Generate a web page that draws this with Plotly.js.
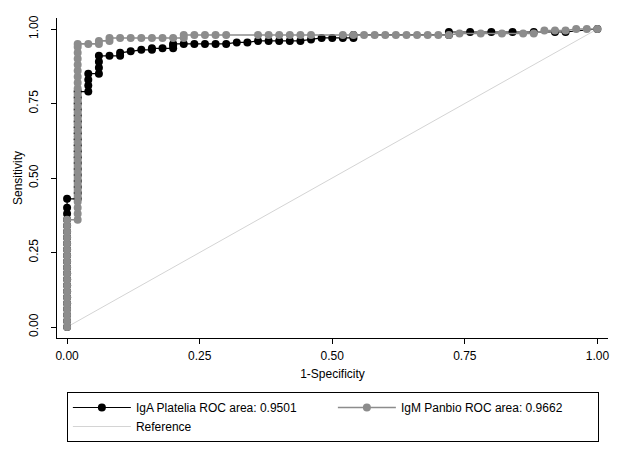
<!DOCTYPE html>
<html>
<head>
<meta charset="utf-8">
<script src="https://cdn.plot.ly/plotly-3.0.1.min.js"></script>
<style>html,body{margin:0;padding:0;background:#fff;}#chart{width:625px;height:457px;}</style>
</head>
<body>
<div id="chart"></div>
<script>
// IgA Platelia ROC curve (1-Specificity, Sensitivity)
const igaX = [0,0,0,0,0,0,0,0,0,0,0,0,0,0,0,0,0,0,0,0,0,0,0.02,0.02,0.02,0.02,0.02,0.02,0.02,0.02,0.02,0.02,0.02,0.02,0.02,0.02,0.02,0.02,0.02,0.02,0.02,0.04,0.04,0.04,0.04,0.06,0.06,0.06,0.06,0.08,0.10,0.10,0.12,0.14,0.16,0.16,0.18,0.20,0.20,0.20,0.22,0.24,0.26,0.28,0.30,0.32,0.34,0.36,0.38,0.40,0.42,0.44,0.46,0.48,0.50,0.52,0.54,0.54,0.72,0.72,0.76,0.80,0.84,0.88,0.92,0.94,1.00];
const igaY = [0,0.02,0.04,0.06,0.08,0.10,0.12,0.14,0.16,0.18,0.20,0.22,0.24,0.26,0.28,0.30,0.32,0.34,0.36,0.38,0.40,0.43,0.43,0.45,0.47,0.49,0.51,0.53,0.55,0.57,0.59,0.61,0.63,0.65,0.67,0.69,0.71,0.73,0.75,0.77,0.79,0.79,0.81,0.83,0.85,0.85,0.87,0.89,0.91,0.91,0.91,0.92,0.925,0.93,0.93,0.935,0.935,0.935,0.945,0.95,0.95,0.95,0.95,0.95,0.95,0.955,0.955,0.96,0.96,0.96,0.96,0.96,0.965,0.97,0.97,0.97,0.97,0.98,0.98,0.99,0.99,0.99,0.99,0.99,0.99,0.99,1.00];
// IgM Panbio ROC curve
const igmX = [0,0,0,0,0,0,0,0,0,0,0,0,0,0,0,0,0,0,0,0.02,0.02,0.02,0.02,0.02,0.02,0.02,0.02,0.02,0.02,0.02,0.02,0.02,0.02,0.02,0.02,0.02,0.02,0.02,0.02,0.02,0.02,0.02,0.02,0.02,0.02,0.02,0.02,0.02,0.02,0.02,0.04,0.06,0.06,0.08,0.08,0.10,0.12,0.14,0.16,0.18,0.20,0.22,0.22,0.24,0.26,0.28,0.30,0.36,0.38,0.40,0.42,0.44,0.46,0.52,0.54,0.56,0.58,0.60,0.62,0.64,0.66,0.68,0.70,0.72,0.74,0.78,0.82,0.86,0.88,0.90,0.92,0.94,0.96,0.98,1.00];
const igmY = [0,0.02,0.04,0.06,0.08,0.10,0.12,0.14,0.16,0.18,0.20,0.22,0.24,0.26,0.28,0.30,0.32,0.34,0.36,0.36,0.38,0.40,0.42,0.44,0.46,0.48,0.50,0.52,0.54,0.56,0.58,0.60,0.62,0.64,0.66,0.68,0.70,0.72,0.74,0.76,0.78,0.80,0.82,0.84,0.86,0.88,0.90,0.92,0.94,0.95,0.95,0.95,0.96,0.96,0.97,0.97,0.97,0.97,0.97,0.97,0.97,0.97,0.98,0.98,0.98,0.98,0.98,0.98,0.98,0.98,0.98,0.98,0.98,0.98,0.98,0.98,0.98,0.98,0.98,0.98,0.98,0.98,0.98,0.98,0.985,0.985,0.985,0.985,0.985,0.995,0.995,0.995,1.00,1.00,1.00];
// Reference diagonal
const refX = [0,1];
const refY = [0,1];
const tickVals = [0,0.25,0.5,0.75,1];
const tickText = ['0.00','0.25','0.50','0.75','1.00'];
const names = ['IgA Platelia ROC area: 0.9501','IgM Panbio ROC area: 0.9662','Reference'];

const FONT = 'Arial, "Liberation Sans", sans-serif';
const data = [
  {x: refX, y: refY, type:'scatter', mode:'lines', name:names[2], legendrank:3,
   line:{color:'#d4d4d4', width:1}},
  {x: igaX, y: igaY, type:'scatter', mode:'lines+markers', name:names[0], legendrank:1,
   line:{color:'#000', width:1.2}, marker:{color:'#000', size:8, symbol:'circle'}},
  {x: igmX, y: igmY, type:'scatter', mode:'lines+markers', name:names[1], legendrank:2,
   line:{color:'#8c8c8c', width:1.6}, marker:{color:'#8c8c8c', size:8, symbol:'circle'}}
];
const layout = {
  width:625, height:457,
  margin:{l:57, r:17, t:18, b:119, autoexpand:false},
  paper_bgcolor:'#fff', plot_bgcolor:'#fff',
  font:{family:FONT, size:12, color:'#000'},
  showlegend:true,
  xaxis:{range:[-0.019,1.02], tickvals:tickVals, ticktext:tickText, showgrid:false, zeroline:false,
    showline:true, linecolor:'#000', linewidth:1, ticks:'outside', ticklen:5, tickcolor:'#000',
    ticklabelstandoff:2, automargin:false,
    title:{text:'1-Specificity', font:{size:12}, standoff:7}},
  yaxis:{range:[-0.0369,1.0369], tickvals:tickVals, ticktext:tickText, showgrid:false, zeroline:false,
    showline:true, linecolor:'#000', linewidth:1, ticks:'outside', ticklen:5, tickcolor:'#000',
    tickangle:-90, ticklabelstandoff:8, automargin:false,
    title:{text:'Sensitivity', font:{size:12}, standoff:2}},
  legend:{orientation:'h', xref:'container', yref:'container', x:0.107, xanchor:'left', y:1-392/457, yanchor:'top',
    bordercolor:'#000', borderwidth:1, bgcolor:'#fff', entrywidth:192, entrywidthmode:'pixels',
    font:{size:12}, itemwidth:58, traceorder:'normal'}
};
Plotly.newPlot('chart', data, layout, {displayModeBar:false, staticPlot:true});
</script>
</body>
</html>
